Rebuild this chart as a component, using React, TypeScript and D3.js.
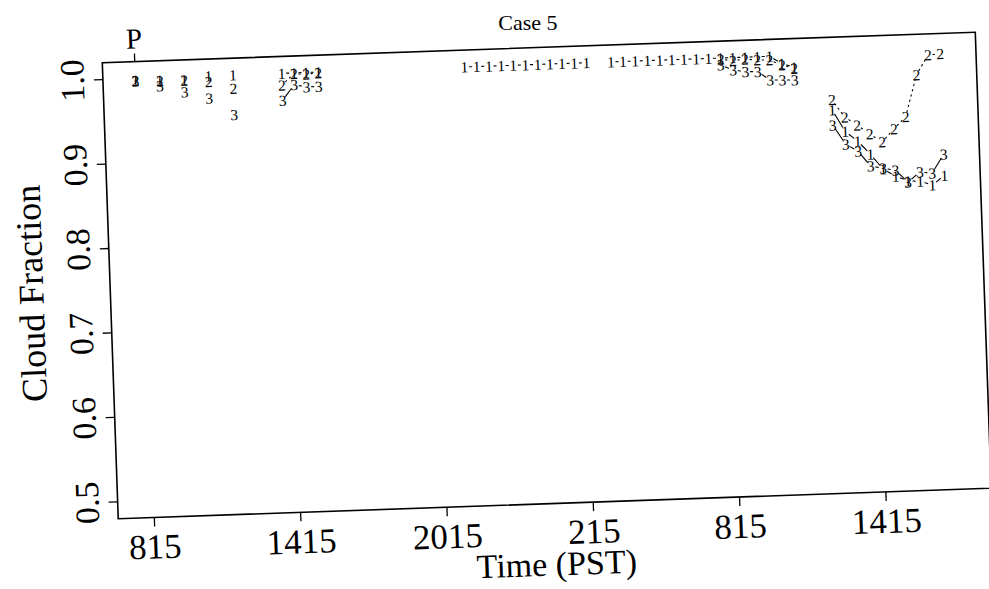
import React from 'react';
import * as d3 from 'd3';

// ---- data (time in decimal hours from 00:00 PST of day 1) ----
const xTickTimes = [8.25, 14.25, 20.25, 26.25, 32.25, 38.25];
const xTickLabels = ['815', '1415', '2015', '215', '815', '1415'];
const yTicks = [0.5, 0.6, 0.7, 0.8, 0.9, 1.0];
const yTickLabels = ['0.5', '0.6', '0.7', '0.8', '0.9', '1.0'];
const topMarkTimes = [8.1];
const topMarkLabels = ['P'];

const s1Times = [8.1, 9.1, 10.1, 11.1, 12.1, 14.1, 14.6, 15.1, 15.6,
  21.6, 22.1, 22.6, 23.1, 23.6, 24.1, 24.6, 25.1, 25.6, 26.1, 26.6,
  27.6, 28.1, 28.6, 29.1, 29.6, 30.1, 30.6, 31.1, 31.6, 32.1, 32.6, 33.1, 33.6, 34.1, 34.6, 35.1,
  36.6, 37.1, 37.6, 38.1, 38.6, 39.1, 39.6, 40.1, 40.6, 41.1];
const s1Values = [0.998, 0.997, 0.996, 1.0, 1.0, 1.0, 1.0, 1.0, 1.0,
  1.0, 1.0, 1.0, 1.0, 1.0, 1.0, 1.0, 1.0, 1.0, 1.0, 1.0,
  1.0, 1.0, 1.0, 1.0, 1.0, 1.0, 1.0, 1.0, 1.0, 1.0, 1.0, 1.0, 1.0, 1.0, 0.991, 0.986,
  0.934, 0.908, 0.896, 0.880, 0.862, 0.853, 0.847, 0.846, 0.841, 0.852];

const s2Times = [8.1, 9.1, 10.1, 11.1, 12.1, 14.1, 14.6, 15.1, 15.6,
  32.1, 32.6, 33.1, 33.6, 34.1, 34.6, 35.1,
  36.6, 37.1, 37.6, 38.1, 38.6, 39.1, 39.6, 40.1, 40.6, 41.1];
const s2Values = [0.997, 0.996, 0.996, 0.993, 0.984, 0.986, 0.999, 0.998, 0.999,
  0.9985, 0.9964, 0.9977, 0.9961, 0.9956, 0.9892, 0.9847,
  0.946, 0.925, 0.915, 0.904, 0.894, 0.909, 0.923, 0.972, 0.995, 0.996];

const s3Times = [8.1, 9.1, 10.1, 11.1, 12.1, 14.1, 14.6, 15.1, 15.6,
  32.1, 32.6, 33.1, 33.6, 34.1, 34.6, 35.1,
  36.6, 37.1, 37.6, 38.1, 38.6, 39.1, 39.6, 40.1, 40.6, 41.1];
const s3Values = [0.997, 0.990, 0.982, 0.9735, 0.953, 0.968, 0.986, 0.983, 0.983,
  0.9917, 0.9853, 0.9828, 0.9824, 0.9719, 0.9714, 0.9709,
  0.916, 0.893, 0.884, 0.866, 0.863, 0.860, 0.8455, 0.857, 0.855, 0.877];

const seriesNames = ['1', '2', '3'];
const seriesDash = ['none', '1.4,4', 'none'];

// ---- layout ----
const W = 989, H = 589;
const PW = 873.5, PH = 456.3;
const FONT = '"Liberation Serif", "DejaVu Serif", serif';

export default function App() {
  const x = d3.scaleLinear().domain([6.77, 42.57]).range([0, PW]);
  const y = d3.scaleLinear().domain([0.48, 1.02]).range([PH, 0]);

  const series = [
    { name: seriesNames[0], t: s1Times, v: s1Values, dash: seriesDash[0] },
    { name: seriesNames[1], t: s2Times, v: s2Values, dash: seriesDash[1] },
    { name: seriesNames[2], t: s3Times, v: s3Values, dash: seriesDash[2] },
  ];

  const gap = 5;
  const segs: JSX.Element[] = [];
  const chars: JSX.Element[] = [];
  series.forEach((s, si) => {
    for (let i = 0; i < s.t.length; i++) {
      const px = x(s.t[i]), py = y(s.v[i]);
      chars.push(
        <text key={`c${si}-${i}`} x={px} y={py} dy="0.35em" textAnchor="middle"
          fontSize={15.5} fontFamily={FONT} fill="#000">{s.name}</text>
      );
      if (i < s.t.length - 1 && s.t[i + 1] - s.t[i] < 0.6) {
        const qx = x(s.t[i + 1]), qy = y(s.v[i + 1]);
        const dx = qx - px, dy = qy - py;
        const len = Math.hypot(dx, dy);
        if (len > 2 * gap + 0.5) {
          const f = gap / len;
          segs.push(
            <line key={`s${si}-${i}`} x1={px + dx * f} y1={py + dy * f} x2={qx - dx * f} y2={qy - dy * f}
              stroke="#000" strokeWidth={1.1} strokeDasharray={s.dash} strokeLinecap="round" />
          );
        }
      }
    }
  });

  return (
    <svg width={W} height={H} style={{ position: 'absolute', left: 0, top: 0, background: '#fff' }}
      fontFamily={FONT}>
      <rect x={0} y={0} width={W} height={H} fill="#fff" />
      <text x={528} y={30} textAnchor="middle" fontSize={22} fontFamily={FONT}>Case 5</text>
      <g transform="translate(102.3,62.7) rotate(-2)">
        <rect x={0} y={0} width={PW} height={PH} fill="none" stroke="#000" strokeWidth={1.6} />
        {yTicks.map((t, i) => (
          <g key={`yt${i}`}>
            <line x1={0} x2={-9} y1={y(t)} y2={y(t)} stroke="#000" strokeWidth={1.3} />
            <text transform={`translate(-31,${y(t)}) rotate(-90)`} textAnchor="middle" dy="0.35em"
              fontSize={34}>{yTickLabels[i]}</text>
          </g>
        ))}
        {xTickTimes.map((t, i) => (
          <g key={`xt${i}`}>
            <line x1={x(t)} x2={x(t)} y1={PH} y2={PH + 9} stroke="#000" strokeWidth={1.3} />
            <text x={x(t)} y={PH + 41} textAnchor="middle" fontSize={35}>{xTickLabels[i]}</text>
          </g>
        ))}
        {topMarkTimes.map((t, i) => (
          <g key={`tm${i}`}>
            <line x1={x(t)} x2={x(t)} y1={0} y2={-8} stroke="#000" strokeWidth={1.3} />
            <text x={x(t)} y={-13} textAnchor="middle" fontSize={29}>{topMarkLabels[i]}</text>
          </g>
        ))}
        <text x={PW / 2} y={PH + 72} textAnchor="middle" fontSize={34}>Time (PST)</text>
        <text transform={`translate(-67,${PH / 2}) rotate(-90)`} textAnchor="middle" fontSize={36}>Cloud Fraction</text>
        {segs}
        {chars}
      </g>
    </svg>
  );
}
